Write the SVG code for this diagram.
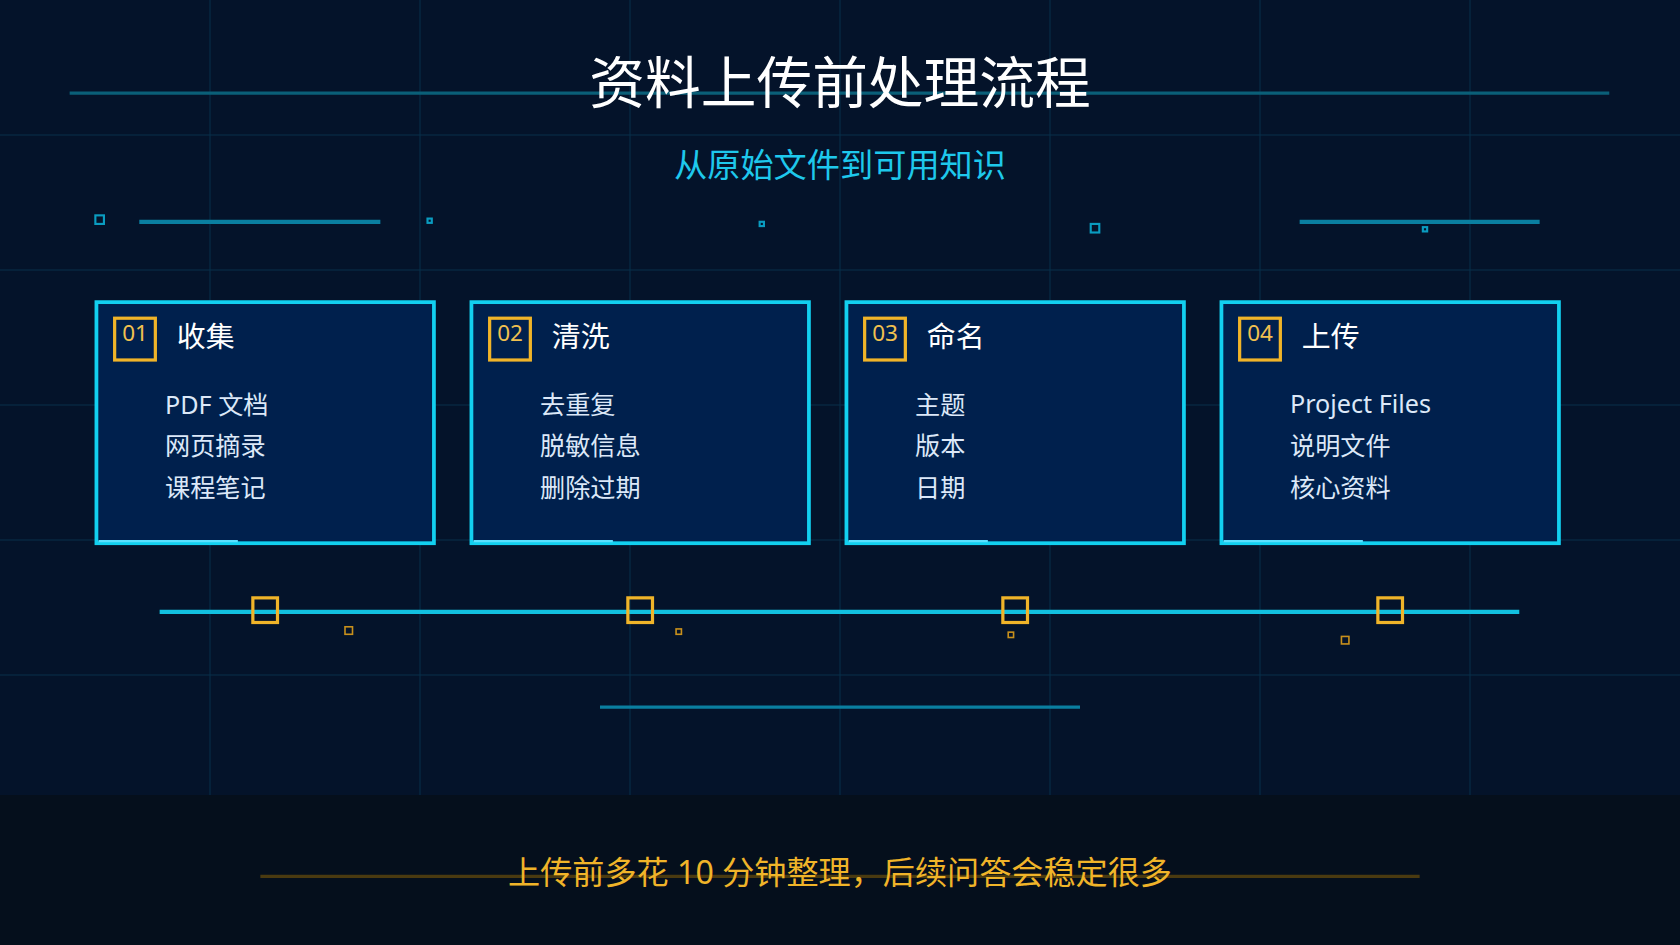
<svg xmlns="http://www.w3.org/2000/svg" width="1680" height="945" viewBox="0 0 1680 945">
<style>
.card{fill:#00204d;stroke:#12d0f0;stroke-width:3.5}
.badge{fill:none;stroke:#f0b429;stroke-width:3}
.num{font-family:"Noto Sans","Noto Sans CJK SC",sans-serif;font-size:21px;fill:#f0c050}
.ttl{font-family:"Noto Sans CJK SC",sans-serif;font-size:27px;fill:#ffffff}
.item{font-family:"Noto Sans","Noto Sans CJK SC",sans-serif;font-size:23.5px;fill:#dce8f8}
.grid{stroke:#08304a;stroke-width:1}
.deco{stroke:#0a7fa0;stroke-width:4}
.sq{fill:none;stroke:#f0b429;stroke-width:3}
.sm{fill:none;stroke:#c8901c;stroke-width:1.5}
.cy{fill:none;stroke:#0a9cc0;stroke-width:2}
</style>
<rect width="1680" height="945" fill="#04132a"/>
<g transform="scale(1.07143)">
<g id="grid">
<line class="grid" x1="196" y1="0" x2="196" y2="742"/><line class="grid" x1="392" y1="0" x2="392" y2="742"/><line class="grid" x1="588" y1="0" x2="588" y2="742"/><line class="grid" x1="784" y1="0" x2="784" y2="742"/><line class="grid" x1="980" y1="0" x2="980" y2="742"/><line class="grid" x1="1176" y1="0" x2="1176" y2="742"/><line class="grid" x1="1372" y1="0" x2="1372" y2="742"/>
<line class="grid" x1="0" y1="126" x2="1568" y2="126"/><line class="grid" x1="0" y1="252" x2="1568" y2="252"/><line class="grid" x1="0" y1="378" x2="1568" y2="378"/><line class="grid" x1="0" y1="504" x2="1568" y2="504"/><line class="grid" x1="0" y1="630" x2="1568" y2="630"/>
</g>
<rect x="0" y="742" width="1568" height="140" fill="#050f1c"/>
<line x1="65" y1="87" x2="1502" y2="87" stroke="#0a5f78" stroke-width="3"/>
<text x="784" y="96" text-anchor="middle" font-family="Noto Sans CJK SC,sans-serif" font-size="52" fill="#ffffff">资料上传前处理流程</text>
<text x="784" y="165" text-anchor="middle" font-family="Noto Sans CJK SC,sans-serif" font-size="31" fill="#1ec8ec">从原始文件到可用知识</text>
<g id="decor">
<line class="deco" x1="130" y1="207" x2="355" y2="207"/><line class="deco" x1="1213" y1="207" x2="1437" y2="207"/>
<rect class="cy" x="89" y="201" width="8" height="8"/><rect class="cy" x="399" y="204" width="4" height="4"/><rect class="cy" x="709" y="207" width="4" height="4"/><rect class="cy" x="1018" y="209" width="8" height="8"/><rect class="cy" x="1328" y="212" width="4" height="4"/>
<line x1="560" y1="660" x2="1008" y2="660" stroke="#0a7fa0" stroke-width="3"/>
</g>
<g id="connectors">
<line x1="149" y1="571" x2="1418" y2="571" stroke="#12c0e0" stroke-width="4"/>
<rect class="sq" x="236" y="558" width="23" height="23"/><rect class="sq" x="586" y="558" width="23" height="23"/><rect class="sq" x="936" y="558" width="23" height="23"/><rect class="sq" x="1286" y="558" width="23" height="23"/>
<rect class="sm" x="322" y="585" width="7" height="7"/><rect class="sm" x="631" y="587" width="5" height="5"/><rect class="sm" x="941" y="590" width="5" height="5"/><rect class="sm" x="1252" y="594" width="7" height="7"/>
</g>
<g id="n1"><rect class="card" x="90" y="282" width="315" height="225"/><line x1="92" y1="505" x2="222" y2="505" stroke="#5ae0ff" stroke-width="2"/><rect class="badge" x="107" y="297" width="38" height="39"/><text class="num" x="126" y="318" text-anchor="middle">01</text><text class="ttl" x="165" y="324">收集</text><text class="item" x="154" y="386">PDF 文档</text><text class="item" x="154" y="425">网页摘录</text><text class="item" x="154" y="464">课程笔记</text></g>
<g id="n2"><rect class="card" x="440" y="282" width="315" height="225"/><line x1="442" y1="505" x2="572" y2="505" stroke="#5ae0ff" stroke-width="2"/><rect class="badge" x="457" y="297" width="38" height="39"/><text class="num" x="476" y="318" text-anchor="middle">02</text><text class="ttl" x="515" y="324">清洗</text><text class="item" x="504" y="386">去重复</text><text class="item" x="504" y="425">脱敏信息</text><text class="item" x="504" y="464">删除过期</text></g>
<g id="n3"><rect class="card" x="790" y="282" width="315" height="225"/><line x1="792" y1="505" x2="922" y2="505" stroke="#5ae0ff" stroke-width="2"/><rect class="badge" x="807" y="297" width="38" height="39"/><text class="num" x="826" y="318" text-anchor="middle">03</text><text class="ttl" x="865" y="324">命名</text><text class="item" x="854" y="386">主题</text><text class="item" x="854" y="425">版本</text><text class="item" x="854" y="464">日期</text></g>
<g id="n4"><rect class="card" x="1140" y="282" width="315" height="225"/><line x1="1142" y1="505" x2="1272" y2="505" stroke="#5ae0ff" stroke-width="2"/><rect class="badge" x="1157" y="297" width="38" height="39"/><text class="num" x="1176" y="318" text-anchor="middle">04</text><text class="ttl" x="1215" y="324">上传</text><text class="item" x="1204" y="385">Project Files</text><text class="item" x="1204" y="425">说明文件</text><text class="item" x="1204" y="464">核心资料</text></g>
<line x1="243" y1="818" x2="1325" y2="818" stroke="#4a3a10" stroke-width="3"/>
<text x="784" y="825" text-anchor="middle" font-family="Noto Sans,Noto Sans CJK SC,sans-serif" font-size="30" fill="#f0b429">上传前多花 10 分钟整理，后续问答会稳定很多</text>
</g>
</svg>
